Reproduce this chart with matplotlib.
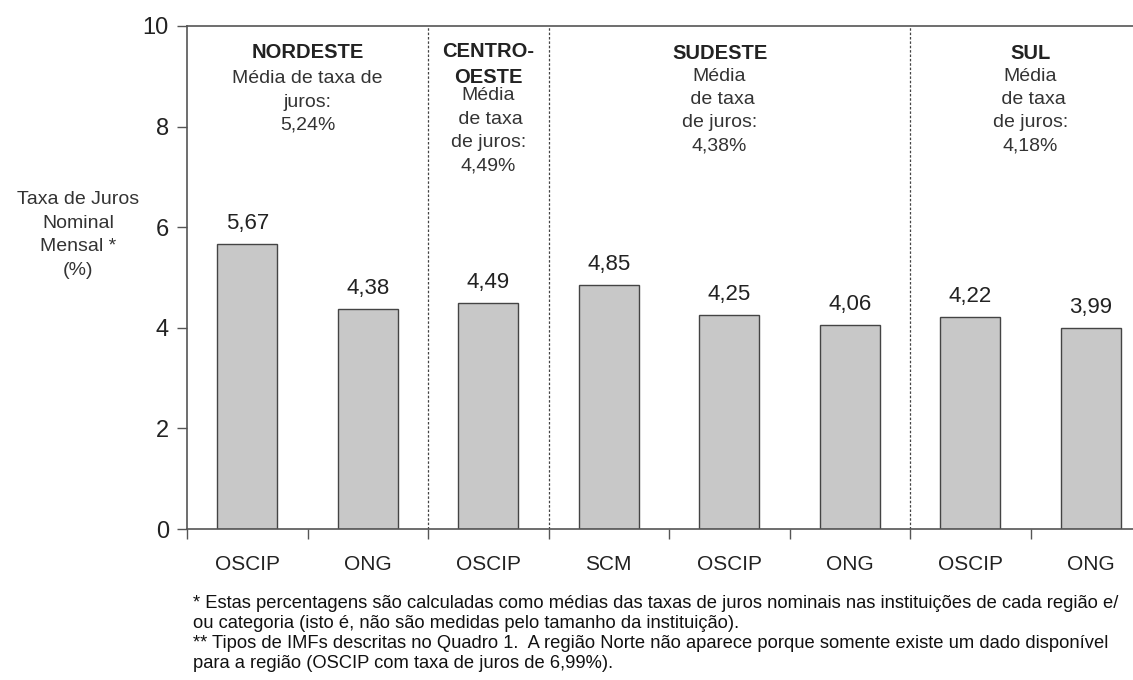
import numpy as np
import matplotlib.pyplot as plt

plt.rcParams['font.family'] = ['Liberation Sans', 'DejaVu Sans']

# data
categories = ['OSCIP', 'ONG', 'OSCIP', 'SCM', 'OSCIP', 'ONG', 'OSCIP', 'ONG']
values = [5.67, 4.38, 4.49, 4.85, 4.25, 4.06, 4.22, 3.99]
value_labels = ['5,67', '4,38', '4,49', '4,85', '4,25', '4,06', '4,22', '3,99']

regions = ['NORDESTE', 'CENTRO-\nOESTE', 'SUDESTE', 'SUL']
region_means = ['5,24%', '4,49%', '4,38%', '4,18%']
region_text = ['Média de taxa de\njuros:\n',
               'Média\n de taxa\nde juros:\n',
               'Média\n de taxa\nde juros:\n',
               'Média\n de taxa\nde juros:\n']
region_start = [0, 2, 3, 6]
region_end = [2, 3, 6, 8]

footnotes = ['* Estas percentagens são calculadas como médias das taxas de juros nominais nas instituições de cada região e/',
             'ou categoria (isto é, não são medidas pelo tamanho da instituição).',
             '** Tipos de IMFs descritas no Quadro 1.  A região Norte não aparece porque somente existe um dado disponível',
             'para a região (OSCIP com taxa de juros de 6,99%).']

W, H = 1133, 680
fig = plt.figure(figsize=(W / 100, H / 100), dpi=100)
left, right, top, bottom = 187, 1151, 26, 529
ax = fig.add_axes([left / W, 1 - bottom / H, (right - left) / W, (bottom - top) / H])

txt = '#333333'
edge = '#555555'

x = np.arange(len(values))
ax.bar(x, values, width=0.5, color='#c8c8c8', edgecolor='#444444', linewidth=1.0)
for xi, v, lab in zip(x, values, value_labels):
    ax.text(xi, v + 0.2, lab, ha='center', va='bottom', fontsize=16, color='#222222')

ax.set_xlim(-0.5, len(values) - 0.5)
ax.set_ylim(0, 10)
ax.set_yticks([0, 2, 4, 6, 8, 10])
ax.tick_params(axis='y', labelsize=17, length=7, width=1, color=edge, pad=6, labelcolor='#222222')

ax.set_xticks(np.arange(len(values) + 1) - 0.5)
ax.set_xticklabels([])
ax.tick_params(axis='x', which='major', length=7, width=1, color=edge)
ax.set_xticks(x, minor=True)
ax.set_xticklabels(categories, minor=True)
ax.tick_params(axis='x', which='minor', length=0, labelsize=15, pad=19, labelcolor='#222222')

for s in ['left', 'top', 'bottom']:
    ax.spines[s].set_color(edge)
    ax.spines[s].set_linewidth(1.2)
ax.spines['right'].set_visible(False)

# dotted separators between regions
for b in [2, 3, 6]:
    ax.axvline(b - 0.5, color='#444444', linestyle=(0, (2, 1.5)), linewidth=0.9)

# region headings
title_y = [9.66, 9.69, 9.64, 9.64]
sub_y = [9.12, 8.78, 9.17, 9.17]
for name, mean, body, s, e, ty, sy in zip(regions, region_means, region_text,
                                          region_start, region_end, title_y, sub_y):
    cx = (s + e) / 2 - 0.5
    if name == 'SUDESTE':
        cx -= 0.08
    ax.text(cx, ty, name, ha='center', va='top', fontsize=14.5, fontweight='bold',
            color='#222222', linespacing=1.5)
    ax.text(cx, sy, body + mean, ha='center', va='top', fontsize=14,
            color=txt, linespacing=1.48)

fig.text(78 / W, 1 - 235 / H, 'Taxa de Juros\nNominal\nMensal *\n(%)', ha='center', va='center',
         fontsize=14, color=txt, linespacing=1.5)

for i, line in enumerate(footnotes):
    fig.text(193 / W, 1 - (604 + i * 20) / H, line, ha='left', va='center',
             fontsize=13.2, color='#111111')

fig.savefig('out.png', dpi=100)
